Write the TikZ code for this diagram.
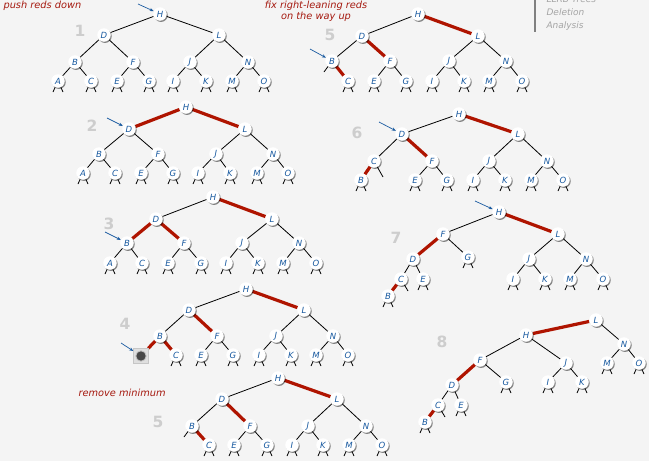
\documentclass[tikz,border=0pt]{standalone}
\usepackage{fontspec}
\setmainfont{DejaVu Sans}
\usetikzlibrary{shadows,arrows.meta}
\definecolor{bgc}{RGB}{244,244,244}
\definecolor{nblue}{RGB}{25,90,160}
\definecolor{redl}{RGB}{175,20,0}
\definecolor{txtred}{RGB}{165,25,15}
\definecolor{numgray}{RGB}{205,205,205}
\definecolor{secgray}{RGB}{165,165,165}
\pgfdeclarelayer{bglayer}\pgfdeclarelayer{edges}
\pgfsetlayers{bglayer,edges,main}
\tikzset{
 tn/.style={circle,fill=white,minimum size=13.5pt,inner sep=0pt,
   font=\itshape\fontsize{8.5}{8.5}\selectfont,text=nblue,
   drop shadow={shadow xshift=1pt,shadow yshift=-1.2pt,opacity=0.45,fill=black}},
 blk/.style={draw=black,line width=0.8pt},
 rd/.style={draw=redl,line width=3.2pt},
 stub/.style={draw=black,line width=0.8pt},
 num/.style={font=\bfseries\fontsize{15.5}{15.5}\selectfont,text=numgray},
 arr/.style={draw=nblue,line width=0.7pt,-{Stealth[length=4pt,width=3.2pt]}},
 note/.style={font=\itshape\fontsize{9.8}{11}\selectfont,text=txtred},
 sec/.style={font=\itshape\fontsize{9}{9}\selectfont,text=secgray,anchor=west},
 bomb/.style={rectangle,minimum size=15pt,inner sep=0pt,fill=gray!25,draw=gray!45,
   path picture={\fill[black!72] (path picture bounding box.center) circle (5pt);
                 \draw[gray!55,line width=0.8pt] (path picture bounding box.center) circle (5.2pt);}},
}
\newcommand\tnd[3]{\node[tn] (#1) at (#2) {#3};}
\newcommand\be[2]{\draw[blk] (#1) -- (#2);}
\newcommand\re[2]{\draw[rd] (#1) -- (#2);}
\newcommand\stubs[1]{\draw[stub] (#1.center) -- ++(-5,11) (#1.center) -- ++(5,11);}
\begin{document}
\begin{tikzpicture}[x=1pt,y=-1pt]
\useasboundingbox (0,0) rectangle (649,461);
\begin{pgfonlayer}{bglayer}
\fill[bgc] (0,0) rectangle (649,461);
\end{pgfonlayer}

% ---------- texts ----------
\node[note,anchor=west] (t1) at (0,6) {push reds down};
\node[note,align=center] (t2) at (316,11.5) {fix right-leaning reds\\on the way up};
\node[note,anchor=west] (t3) at (75,393) {remove minimum};
\node[sec] (s0) at (543,-1) {LLRB Trees};
\node[sec] (s1) at (543,12) {Deletion};
\node[sec] (s2) at (543,26) {Analysis};
\draw[gray,line width=1.1pt] (535,0) -- (535,32);

% ---------- numbers ----------
\node[num] (n1) at (80,31) {1};
\node[num] (n2) at (92,126) {2};
\node[num] (n3) at (109,224) {3};
\node[num] (n4) at (125,324) {4};
\node[num] (n5) at (158,422) {5};
\node[num] (n5b) at (330,35) {5};
\node[num] (n6) at (357,133) {6};
\node[num] (n7) at (396,238) {7};
\node[num] (n8) at (442,342) {8};

% ---------- tree 1 ----------
\tnd{aH}{160,14}{H} \tnd{aD}{104,35}{D} \tnd{aL}{219,35}{L}
\tnd{aB}{75,62}{B} \tnd{aF}{133,62}{F} \tnd{aJ}{190,62}{J} \tnd{aN}{248,62}{N}
\tnd{aA}{58,81}{A} \tnd{aC}{91,81}{C} \tnd{aE}{117,81}{E} \tnd{aG}{149,81}{G}
\tnd{aI}{173,81}{I} \tnd{aK}{206,81}{K} \tnd{aM}{232,81}{M} \tnd{aO}{264,81}{O}

% ---------- tree 2 ----------
\tnd{bH}{186,107}{H} \tnd{bD}{129,129}{D} \tnd{bL}{245,129}{L}
\tnd{bB}{99,154}{B} \tnd{bF}{158,154}{F} \tnd{bJ}{216,154}{J} \tnd{bN}{273,154}{N}
\tnd{bA}{83,173}{A} \tnd{bC}{115,173}{C} \tnd{bE}{141,173}{E} \tnd{bG}{173,173}{G}
\tnd{bI}{198,173}{I} \tnd{bK}{230,173}{K} \tnd{bM}{257,173}{M} \tnd{bO}{288,173}{O}

% ---------- tree 3 ----------
\tnd{cH}{213,197}{H} \tnd{cD}{156,219}{D} \tnd{cL}{272,219}{L}
\tnd{cB}{127,243}{B} \tnd{cF}{184,243}{F} \tnd{cJ}{242,243}{J} \tnd{cN}{299,243}{N}
\tnd{cA}{110,263}{A} \tnd{cC}{142,263}{C} \tnd{cE}{168,263}{E} \tnd{cG}{201,263}{G}
\tnd{cI}{226,263}{I} \tnd{cK}{258,263}{K} \tnd{cM}{283,263}{M} \tnd{cO}{316,263}{O}

% ---------- tree 4 ----------
\tnd{dH}{246,289}{H} \tnd{dD}{189,310}{D} \tnd{dL}{304,310}{L}
\tnd{dB}{160,336}{B} \tnd{dF}{217,336}{F} \tnd{dJ}{276,336}{J} \tnd{dN}{333,336}{N}
\node[bomb] (dX) at (141,356) {};
\tnd{dC}{176,355}{C} \tnd{dE}{201,355}{E} \tnd{dG}{233,355}{G}
\tnd{dI}{259,355}{I} \tnd{dK}{291,355}{K} \tnd{dM}{316,355}{M} \tnd{dO}{348,355}{O}

% ---------- tree 5 (bottom) ----------
\tnd{eH}{278,378}{H} \tnd{eD}{222,399}{D} \tnd{eL}{337,399}{L}
\tnd{eB}{192,426}{B} \tnd{eF}{250,426}{F} \tnd{eJ}{308,426}{J} \tnd{eN}{366,426}{N}
\tnd{eC}{209,445}{C} \tnd{eE}{234,445}{E} \tnd{eG}{267,445}{G}
\tnd{eI}{292,445}{I} \tnd{eK}{323,445}{K} \tnd{eM}{349,445}{M} \tnd{eO}{382,445}{O}

% ---------- tree 5 (top right) ----------
\tnd{fH}{418,14}{H} \tnd{fD}{362,36}{D} \tnd{fL}{478,36}{L}
\tnd{fB}{332,61}{B} \tnd{fF}{390,61}{F} \tnd{fJ}{449,61}{J} \tnd{fN}{506,61}{N}
\tnd{fC}{348,81}{C} \tnd{fE}{374,81}{E} \tnd{fG}{406,81}{G}
\tnd{fI}{432,81}{I} \tnd{fK}{464,81}{K} \tnd{fM}{489,81}{M} \tnd{fO}{522,81}{O}

% ---------- tree 6 ----------
\tnd{gH}{459,114}{H} \tnd{gD}{402,134}{D} \tnd{gL}{518,134}{L}
\tnd{gC}{374,161}{C} \tnd{gF}{432,161}{F} \tnd{gJ}{489,161}{J} \tnd{gN}{547,161}{N}
\tnd{gB}{361,180}{B} \tnd{gE}{415,180}{E} \tnd{gG}{447,180}{G}
\tnd{gI}{473,180}{I} \tnd{gK}{505,180}{K} \tnd{gM}{531,180}{M} \tnd{gO}{563,180}{O}

% ---------- tree 7 ----------
\tnd{hH}{499,212}{H} \tnd{hF}{443,234}{F} \tnd{hL}{558,234}{L}
\tnd{hD}{413,259}{D} \tnd{hG}{468,257}{G} \tnd{hJ}{529,259}{J} \tnd{hN}{586,259}{N}
\tnd{hC}{401,279}{C} \tnd{hE}{423,279}{E} \tnd{hI}{513,279}{I} \tnd{hK}{545,279}{K}
\tnd{hM}{570,279}{M} \tnd{hO}{603,279}{O} \tnd{hB}{388,296}{B}

% ---------- tree 8 ----------
\tnd{iL}{596,320}{L} \tnd{iH}{526,335}{H} \tnd{iN}{624,344}{N}
\tnd{iF}{480,360}{F} \tnd{iJ}{566,363}{J} \tnd{iM}{607,363}{M} \tnd{iO}{639,363}{O}
\tnd{iD}{452,385}{D} \tnd{iG}{506,382}{G} \tnd{iI}{548,382}{I} \tnd{iK}{582,382}{K}
\tnd{iC}{438,405}{C} \tnd{iE}{461,405}{E} \tnd{iB}{425,422}{B}

% ---------- arrows ----------
\coordinate (p1) at (138,4);   \draw[arr] (p1) -- (aH);
\coordinate (p2) at (107,118); \draw[arr] (p2) -- (bD);
\coordinate (p3) at (105,232); \draw[arr] (p3) -- (cB);
\coordinate (p4) at (121,343); \draw[arr] (p4) -- (dX);
\coordinate (p5) at (310,49);  \draw[arr] (p5) -- (fB);
\coordinate (p6) at (379,122); \draw[arr] (p6) -- (gD);
\coordinate (p7) at (475,201); \draw[arr] (p7) -- (hH);

\begin{pgfonlayer}{edges}
% tree 1
\be{aH}{aD}\be{aH}{aL}\be{aD}{aB}\be{aD}{aF}\be{aL}{aJ}\be{aL}{aN}
\be{aB}{aA}\be{aB}{aC}\be{aF}{aE}\be{aF}{aG}\be{aJ}{aI}\be{aJ}{aK}\be{aN}{aM}\be{aN}{aO}
\stubs{aA}\stubs{aC}\stubs{aE}\stubs{aG}\stubs{aI}\stubs{aK}\stubs{aM}\stubs{aO}
% tree 2
\re{bH}{bD}\re{bH}{bL}\be{bD}{bB}\be{bD}{bF}\be{bL}{bJ}\be{bL}{bN}
\be{bB}{bA}\be{bB}{bC}\be{bF}{bE}\be{bF}{bG}\be{bJ}{bI}\be{bJ}{bK}\be{bN}{bM}\be{bN}{bO}
\stubs{bA}\stubs{bC}\stubs{bE}\stubs{bG}\stubs{bI}\stubs{bK}\stubs{bM}\stubs{bO}
% tree 3
\be{cH}{cD}\re{cH}{cL}\re{cD}{cB}\re{cD}{cF}\be{cL}{cJ}\be{cL}{cN}
\be{cB}{cA}\be{cB}{cC}\be{cF}{cE}\be{cF}{cG}\be{cJ}{cI}\be{cJ}{cK}\be{cN}{cM}\be{cN}{cO}
\stubs{cA}\stubs{cC}\stubs{cE}\stubs{cG}\stubs{cI}\stubs{cK}\stubs{cM}\stubs{cO}
% tree 4
\be{dH}{dD}\re{dH}{dL}\be{dD}{dB}\re{dD}{dF}\be{dL}{dJ}\be{dL}{dN}
\re{dB}{dX}\re{dB}{dC}\be{dF}{dE}\be{dF}{dG}\be{dJ}{dI}\be{dJ}{dK}\be{dN}{dM}\be{dN}{dO}
\stubs{dC}\stubs{dE}\stubs{dG}\stubs{dI}\stubs{dK}\stubs{dM}\stubs{dO}
% tree 5 bottom
\be{eH}{eD}\re{eH}{eL}\be{eD}{eB}\re{eD}{eF}\be{eL}{eJ}\be{eL}{eN}
\re{eB}{eC}\be{eF}{eE}\be{eF}{eG}\be{eJ}{eI}\be{eJ}{eK}\be{eN}{eM}\be{eN}{eO}
\draw[stub] (eB.center) -- ++(-8,11);
\stubs{eC}\stubs{eE}\stubs{eG}\stubs{eI}\stubs{eK}\stubs{eM}\stubs{eO}
% tree 5 top
\be{fH}{fD}\re{fH}{fL}\be{fD}{fB}\re{fD}{fF}\be{fL}{fJ}\be{fL}{fN}
\re{fB}{fC}\be{fF}{fE}\be{fF}{fG}\be{fJ}{fI}\be{fJ}{fK}\be{fN}{fM}\be{fN}{fO}
\draw[stub] (fB.center) -- ++(-8,11);
\stubs{fC}\stubs{fE}\stubs{fG}\stubs{fI}\stubs{fK}\stubs{fM}\stubs{fO}
% tree 6
\be{gH}{gD}\re{gH}{gL}\be{gD}{gC}\re{gD}{gF}\be{gL}{gJ}\be{gL}{gN}
\re{gC}{gB}\be{gF}{gE}\be{gF}{gG}\be{gJ}{gI}\be{gJ}{gK}\be{gN}{gM}\be{gN}{gO}
\draw[stub] (gC.center) -- ++(9,16);
\stubs{gB}\stubs{gE}\stubs{gG}\stubs{gI}\stubs{gK}\stubs{gM}\stubs{gO}
% tree 7
\be{hH}{hF}\re{hH}{hL}\re{hF}{hD}\be{hF}{hG}\be{hL}{hJ}\be{hL}{hN}
\be{hD}{hC}\be{hD}{hE}\re{hC}{hB}\be{hJ}{hI}\be{hJ}{hK}\be{hN}{hM}\be{hN}{hO}
\draw[stub] (hC.center) -- ++(7,12);
\stubs{hG}\stubs{hE}\stubs{hI}\stubs{hK}\stubs{hM}\stubs{hO}\stubs{hB}
% tree 8
\re{iL}{iH}\be{iL}{iN}\be{iH}{iF}\be{iH}{iJ}\be{iN}{iM}\be{iN}{iO}
\re{iF}{iD}\be{iF}{iG}\be{iJ}{iI}\be{iJ}{iK}\be{iD}{iC}\be{iD}{iE}\re{iC}{iB}
\draw[stub] (iC.center) -- ++(7,12);
\stubs{iG}\stubs{iI}\stubs{iK}\stubs{iM}\stubs{iO}\stubs{iE}\stubs{iB}
\end{pgfonlayer}
\end{tikzpicture}
\end{document}
